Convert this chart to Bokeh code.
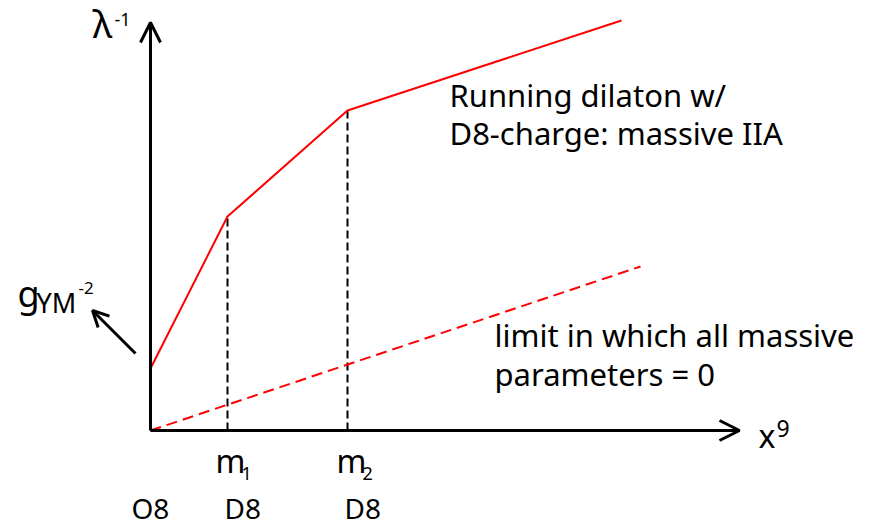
from bokeh.plotting import figure
from bokeh.models import Range1d, Arrow, OpenHead
from bokeh.core.properties import value
from bokeh.embed import file_html
from bokeh.resources import INLINE

# schematic data (arbitrary units; origin at 0,0)
m1 = 7.7
m2 = 19.7
run_x = [0.0, m1, m2, 47.1]          # running dilaton with D8 charge
run_y = [6.2, 21.4, 32.0, 41.0]
lim_x = [0.0, 49.0]                  # limit with all massive parameters = 0
lim_y = [0.0, 16.4]
x_axis_end = 58.9
y_axis_end = 40.8
g_arrow = [(-1.5, 7.7), (-5.8, 12.0)]

FONT = "Noto Sans"
PX_PER_UNIT = 10.0
BASE_SHIFT = 0.39  # distance from baseline to the text's vertical centre (em)

p = figure(width=875, height=522, output_backend="svg", toolbar_location=None,
           x_range=Range1d(-15.0, 72.5), y_range=Range1d(-9.2, 43.0),
           min_border=0)
p.xaxis.visible = False
p.yaxis.visible = False
p.grid.visible = False
p.outline_line_color = None
p.background_fill_color = "white"
p.border_fill_color = "white"

# axes with arrows
p.add_layout(Arrow(end=OpenHead(size=20, line_width=3, line_color="black"),
                   x_start=0, y_start=0, x_end=x_axis_end, y_end=0,
                   line_width=3, line_color="black"))
p.add_layout(Arrow(end=OpenHead(size=20, line_width=3, line_color="black"),
                   x_start=0, y_start=0, x_end=0, y_end=y_axis_end,
                   line_width=3, line_color="black"))

# g_YM arrow
p.add_layout(Arrow(end=OpenHead(size=16, line_width=3, line_color="black"),
                   x_start=g_arrow[0][0], y_start=g_arrow[0][1],
                   x_end=g_arrow[1][0], y_end=g_arrow[1][1],
                   line_width=3, line_color="black"))

# dashed verticals at m1, m2
p.segment(x0=[m1, m2], y0=[0, 0], x1=[m1, m2], y1=[run_y[1], run_y[2]],
          line_color="black", line_width=2, line_dash="8 4")

# curves
p.line(run_x, run_y, line_color="red", line_width=2)
p.line(lim_x, lim_y, line_color="red", line_width=2, line_dash="11 6")

def txt(x, y, s, size):
    yy = y + BASE_SHIFT * size / PX_PER_UNIT
    p.text(x=[x], y=[yy], text=[s], text_font=value(FONT),
           text_font_size=value(f"{size}px"), text_color="black",
           text_align="left", text_baseline="middle")

# axis labels
txt(-5.8, 39.3, "λ", 38)
txt(-3.6, 40.4, "-1", 18)
txt(60.8, -1.7, "x", 32)
txt(62.6, -0.7, "9", 23)
txt(-13.3, 12.3, "g", 36)
txt(-11.4, 11.7, "YM", 27)
txt(-7.2, 13.6, "-2", 17)

# tick-like labels
txt(m1 - 1.2, -4.2, "m", 32)
txt(m1 + 1.4, -5.0, "1", 18)
txt(m2 - 1.1, -4.2, "m", 32)
txt(m2 + 1.5, -5.0, "2", 18)
txt(-1.9, -8.8, "O8", 28)
txt(m1 - 0.3, -8.8, "D8", 28)
txt(m2 - 0.3, -8.8, "D8", 28)

# annotations
txt(29.9, 32.3, "Running dilaton w/", 31)
txt(29.9, 28.5, "D8-charge: massive IIA", 31)
txt(34.4, 8.3, "limit in which all massive", 31)
txt(34.4, 4.4, "parameters = 0", 31)

open("out.html", "w").write(file_html(p, INLINE))
